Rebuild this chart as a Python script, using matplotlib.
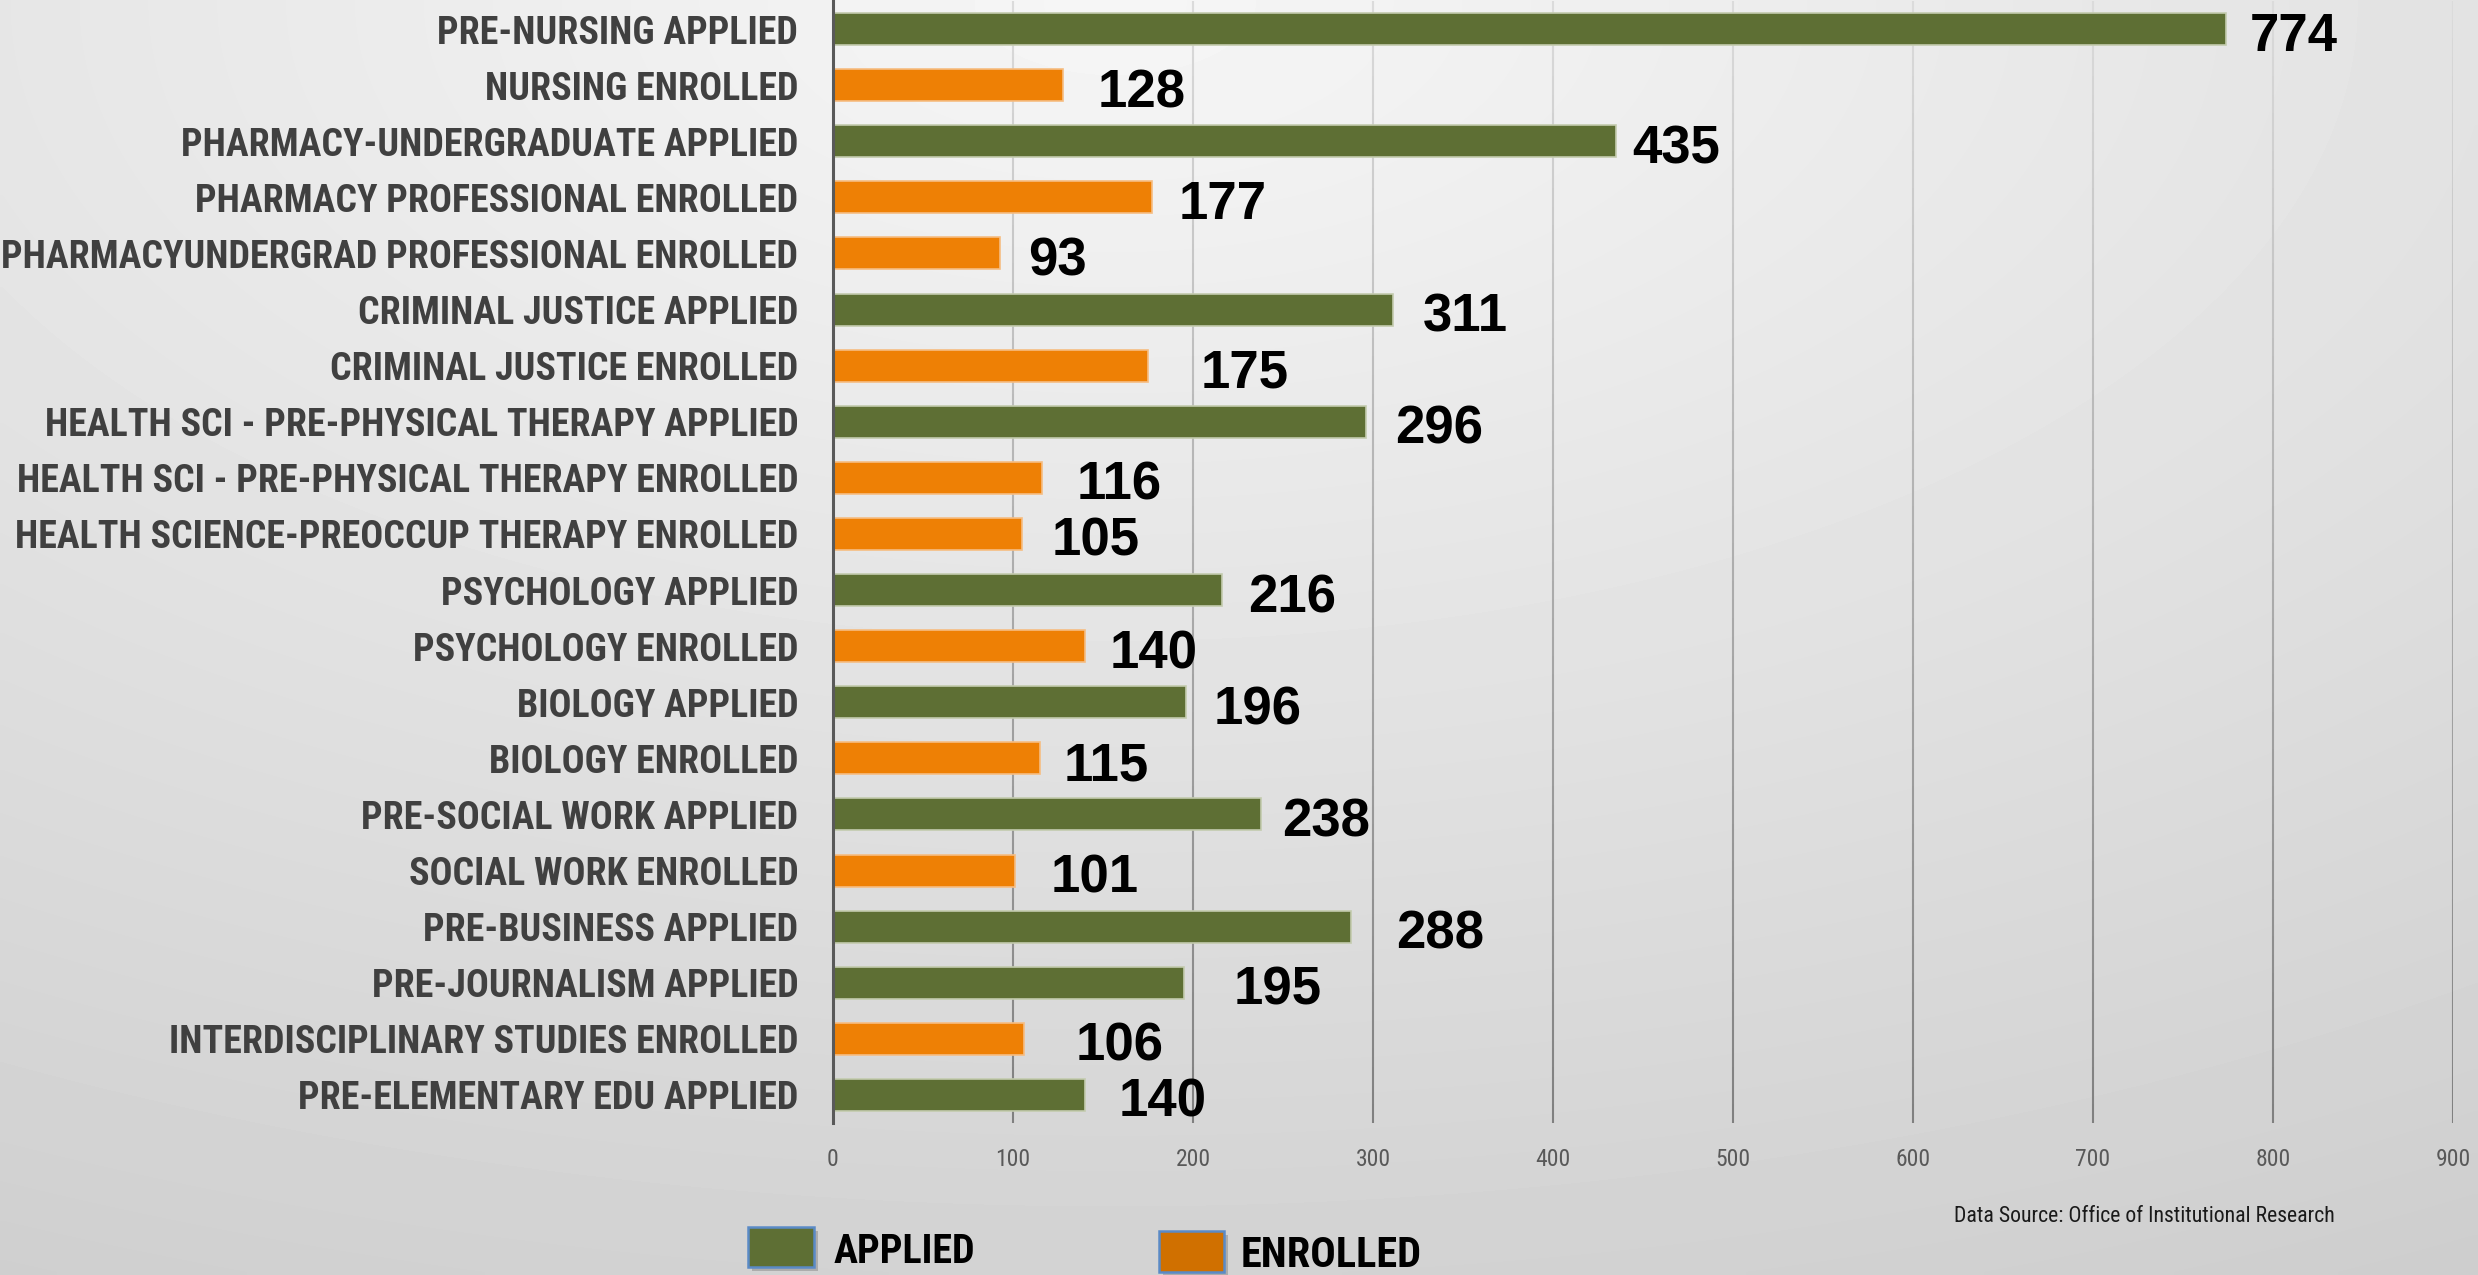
import numpy as np
import matplotlib
matplotlib.use("Agg")
import matplotlib.pyplot as plt
from matplotlib import font_manager as fm
from matplotlib.collections import LineCollection
from matplotlib.patches import Rectangle
import matplotlib.transforms as mtransforms

# ---------------- data ----------------
categories = [
    "PRE-NURSING APPLIED",
    "NURSING ENROLLED",
    "PHARMACY-UNDERGRADUATE APPLIED",
    "PHARMACY PROFESSIONAL ENROLLED",
    "PHARMACYUNDERGRAD PROFESSIONAL ENROLLED",
    "CRIMINAL JUSTICE APPLIED",
    "CRIMINAL JUSTICE ENROLLED",
    "HEALTH SCI - PRE-PHYSICAL THERAPY APPLIED",
    "HEALTH SCI - PRE-PHYSICAL THERAPY ENROLLED",
    "HEALTH SCIENCE-PREOCCUP THERAPY ENROLLED",
    "PSYCHOLOGY APPLIED",
    "PSYCHOLOGY ENROLLED",
    "BIOLOGY APPLIED",
    "BIOLOGY ENROLLED",
    "PRE-SOCIAL WORK APPLIED",
    "SOCIAL WORK ENROLLED",
    "PRE-BUSINESS APPLIED",
    "PRE-JOURNALISM APPLIED",
    "INTERDISCIPLINARY STUDIES ENROLLED",
    "PRE-ELEMENTARY EDU APPLIED",
]
values = [774, 128, 435, 177, 93, 311, 175, 296, 116, 105,
          216, 140, 196, 115, 238, 101, 288, 195, 106, 140]
series = ["APPLIED", "ENROLLED", "APPLIED", "ENROLLED", "ENROLLED",
          "APPLIED", "ENROLLED", "APPLIED", "ENROLLED", "ENROLLED",
          "APPLIED", "ENROLLED", "APPLIED", "ENROLLED", "APPLIED",
          "ENROLLED", "APPLIED", "APPLIED", "ENROLLED", "APPLIED"]
legend_labels = ["APPLIED", "ENROLLED"]
x_ticks = [0, 100, 200, 300, 400, 500, 600, 700, 800, 900]
source_text = "Data Source: Office of Institutional Research"

# label horizontal gaps (pixels) after bar end – styling
label_gap_px = [24, 34, 16, 27, 28, 30, 53, 29, 35, 30,
                26, 25, 28, 24, 21, 36, 45, 50, 52, 34]

# ---------------- styles ----------------
bar_colors = {"APPLIED": "#5E6F34", "ENROLLED": "#EE8005"}
bar_edges = {"APPLIED": "#C3CBAE", "ENROLLED": "#F6BD82"}
legend_colors = {"APPLIED": "#5E6F34", "ENROLLED": "#D07000"}

W, H, DPI = 2478, 1275, 100
names = sorted({f.name for f in fm.fontManager.ttflist})


def pick(cands):
    for c in cands:
        if c in names:
            return c
    return "DejaVu Sans"


narrow = pick(["Roboto Condensed", "Liberation Sans Narrow", "Carlito", "Open Sans", "Noto Sans"])
numfont = pick(["Liberation Sans", "Arial", "DejaVu Sans"])

fig = plt.figure(figsize=(W / DPI, H / DPI), dpi=DPI)

# background gradient
bg = fig.add_axes([0, 0, 1, 1], zorder=-10)
yy, xx = np.mgrid[0:1:200j, 0:1:400j]
d = np.sqrt(((xx - 0.45) * 1.0) ** 2 + (yy * 1.0) ** 2)
d = d / d.max()
val = 0.965 - 0.16 * d
bg.imshow(val, cmap="gray", vmin=0, vmax=1, extent=[0, 1, 0, 1],
          aspect="auto", origin="upper", interpolation="bilinear")
bg.set_axis_off()

# main axes
left_px, right_px, top_px, bottom_px = 833, 2453, 1, 1123
ax = fig.add_axes([left_px / W, 1 - bottom_px / H,
                   (right_px - left_px) / W, (bottom_px - top_px) / H])
ax.patch.set_alpha(0)

y = np.arange(len(categories))
cols = [bar_colors[s] for s in series]
edges = [bar_edges[s] for s in series]
ax.barh(y, values, height=0.57, color=cols, edgecolor=edges, linewidth=1.2, zorder=3)

ax.set_xlim(0, 900)
ax.set_ylim(len(categories) - 0.5, -0.5)
ax.set_xticks(x_ticks)
ax.set_xticklabels([str(t) for t in x_ticks])
ax.set_yticks(y)
ax.set_yticklabels(categories)

for s in ["top", "right", "bottom"]:
    ax.spines[s].set_visible(False)
ax.spines["left"].set_color("#595959")
ax.spines["left"].set_linewidth(2.2)
ax.spines["left"].set_zorder(5)
ax.tick_params(axis="y", length=0, pad=25)
ax.tick_params(axis="x", length=0, pad=18, labelsize=17, labelcolor="#595959")
for t in ax.get_xticklabels():
    t.set_fontfamily(narrow)

# gradient gridlines
nseg = 60
segs, scol = [], []
c_top = np.array([0.86, 0.86, 0.86])
c_bot = np.array([0.50, 0.50, 0.50])
for xt in x_ticks[1:]:
    ys = np.linspace(0, 1, nseg + 1)
    for i in range(nseg):
        segs.append([(xt, ys[i]), (xt, ys[i + 1])])
        f = 1 - (ys[i] + ys[i + 1]) / 2
        scol.append(tuple(c_top + (c_bot - c_top) * f))
trans = mtransforms.blended_transform_factory(ax.transData, ax.transAxes)
lc = LineCollection(segs, colors=scol, linewidths=1.5, transform=trans, zorder=1)
ax.add_collection(lc)

# category labels: fit widest to target width
renderer = fig.canvas.get_renderer()
for t in ax.get_yticklabels():
    t.set_fontfamily(narrow)
    t.set_fontweight("bold")
    t.set_color("#404040")
    t.set_fontsize(20)
widths = [t.get_window_extent(renderer).width for t in ax.get_yticklabels()]
fs = 20 * 798.0 / max(widths)
for t in ax.get_yticklabels():
    t.set_fontsize(fs)

# value labels
px2pt = 72.0 / DPI
for yi, v, g in zip(y, values, label_gap_px):
    ax.annotate(str(v), xy=(v, yi), xytext=(g * px2pt, -22 * px2pt),
                textcoords="offset points", ha="left", va="baseline",
                fontsize=38, fontweight="bold", family=numfont, color="black",
                zorder=6)

# data source
st = fig.text(1954 / W, 1 - 1222 / H, source_text, ha="left", va="baseline",
              fontsize=15, family=narrow, color="#1a1a1a")
sw = st.get_window_extent(renderer).width
st.set_fontsize(15 * 380.0 / sw)

# legend (manual)
leg_boxes = {"APPLIED": (748, 1227, 66, 40), "ENROLLED": (1159, 1231, 65, 41)}
leg_text = {"APPLIED": (834, 1263), "ENROLLED": (1241, 1267)}
leg_w = {"APPLIED": 142, "ENROLLED": 181}
for lab in legend_labels:
    x0, y0, w, h = leg_boxes[lab]
    fig.patches.append(Rectangle(((x0 + 4) / W, 1 - (y0 + h + 4) / H), w / W, h / H,
                                 transform=fig.transFigure, facecolor="#000000",
                                 alpha=0.18, edgecolor="none", zorder=1))
    fig.patches.append(Rectangle((x0 / W, 1 - (y0 + h) / H), w / W, h / H,
                                 transform=fig.transFigure,
                                 facecolor=legend_colors[lab], edgecolor="#5A8AC6",
                                 linewidth=1.8, zorder=2))
    tx, ty = leg_text[lab]
    lt = fig.text(tx / W, 1 - ty / H, lab, ha="left", va="baseline",
                  fontsize=27, fontweight="bold", family=narrow, color="black")
    lw_ = lt.get_window_extent(renderer).width
    lt.set_fontsize(27 * leg_w[lab] / lw_)

fig.savefig("out.png", dpi=DPI)
